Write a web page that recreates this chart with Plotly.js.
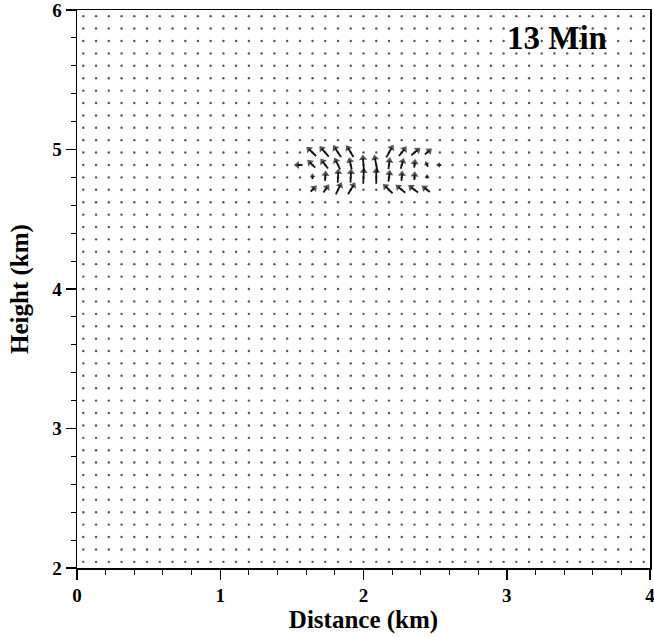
<!DOCTYPE html>
<html>
<head>
<meta charset="utf-8">
<script src="https://cdn.plot.ly/plotly-3.0.1.min.js"></script>
<style>html,body{margin:0;padding:0;background:#fff;}#chart{width:654px;height:638px;}</style>
</head>
<body>
<div id="chart"></div>
<script>
// Model grid (km)
const gridX = [0.044,0.133,0.222,0.311,0.400,0.489,0.578,0.667,0.756,0.844,0.933,1.022,1.111,1.200,1.289,1.378,1.467,1.556,1.644,1.733,1.822,1.911,2.000,2.089,2.178,2.267,2.356,2.444,2.533,2.622,2.711,2.800,2.889,2.978,3.067,3.156,3.244,3.333,3.422,3.511,3.600,3.689,3.778,3.867,3.956];
const gridY = [2.044,2.133,2.222,2.311,2.400,2.489,2.578,2.667,2.756,2.844,2.933,3.022,3.111,3.200,3.289,3.378,3.467,3.556,3.644,3.733,3.822,3.911,4.000,4.089,4.178,4.267,4.356,4.444,4.533,4.622,4.711,4.800,4.889,4.978,5.067,5.156,5.244,5.333,5.422,5.511,5.600,5.689,5.778,5.867,5.956];

// Region with non-zero wind (m/s)
const windX = [1.556,1.644,1.733,1.822,1.911,2.000,2.089,2.178,2.267,2.356,2.444,2.533];
const windY = [4.978,4.889,4.800,4.711];
const u_4978 = [0, -1.3, -1.3, -1.1, -1.0, 0, 0, 1.0, 1.0, 1.2, 0.8, 0];
const w_4978 = [0, 1.3, 1.5, 1.7, 1.7, 0.1, 0.1, 1.8, 1.3, 1.0, 0.7, 0];
const u_4889 = [-1.0, -1.0, -1.0, -0.8, -0.35, -0.2, -0.5, 0.2, 0.4, 0.1, -0.3, -0.5];
const w_4889 = [0, 1.0, 1.35, 1.65, 1.6, 2.6, 2.65, 1.6, 1.4, 1.0, 0.6, 0];
const u_4800 = [0.1, 0, 0.1, 0.1, 0.1, 0.1, 0, 0.2, 0.1, 0.05, 0, 0];
const w_4800 = [0.1, 0.6, 1.3, 2.0, 2.0, 2.4, 2.4, 1.6, 1.3, 1.0, 0.3, 0.1];
const u_4711 = [0, 0.7, 0.7, 0.8, 1.0, 0, 0, -1.3, -1.3, -1.3, -1.0, 0];
const w_4711 = [0, 0.7, 1.0, 1.7, 1.7, 0.2, 0.2, 1.3, 1.1, 1.0, 0.8, 0];
const U = [u_4978, u_4889, u_4800, u_4711];
const W = [w_4978, w_4889, w_4800, w_4711];

const xTicks = [0,1,2,3,4];
const yTicks = [2,3,4,5,6];
const timeLabel = '13 Min';
const SCALE = 0.038; // km of arrow per m/s

// dots at every grid point
const dx = [], dy = [];
gridY.forEach(y => gridX.forEach(x => { dx.push(x); dy.push(y); }));

const dots = {
  type: 'scatter', mode: 'markers', x: dx, y: dy,
  marker: {size: 2.4, color: '#555'}, hoverinfo: 'skip', showlegend: false
};

// wind arrows centred on grid points: shafts + heads
const sx = [], sy = [], hx = [], hy = [], hang = [], hsize = [];
windY.forEach((y, j) => {
  windX.forEach((x, i) => {
    const u = U[j][i], w = W[j][i];
    const mag = Math.hypot(u, w);
    if (mag < 0.25) return;
    sx.push(x - u * SCALE / 2, x + u * SCALE / 2, null);
    sy.push(y - w * SCALE / 2, y + w * SCALE / 2, null);
    hx.push(x + u * SCALE / 2);
    hy.push(y + w * SCALE / 2);
    hang.push(Math.atan2(u, w) * 180 / Math.PI);
    hsize.push(mag < 0.8 ? 5 : 7);
  });
});

const shafts = {
  type: 'scatter', mode: 'lines', x: sx, y: sy,
  line: {color: '#111', width: 1.8},
  hoverinfo: 'skip', showlegend: false, connectgaps: false
};
const heads = {
  type: 'scatter', mode: 'markers', x: hx, y: hy,
  marker: {symbol: 'triangle-up', angle: hang, size: hsize, color: '#111', line: {width: 0}},
  hoverinfo: 'skip', showlegend: false
};

const tickFont = {family: 'Liberation Serif', size: 19, color: '#000', weight: 'bold'};
const titleFont = {family: 'Liberation Serif', size: 25, color: '#000', weight: 'bold'};

const layout = {
  width: 654, height: 638,
  margin: {l: 77, r: 4, t: 10, b: 70},
  paper_bgcolor: '#fff', plot_bgcolor: '#fff',
  showlegend: false,
  xaxis: {
    range: [0, 4], tickvals: xTicks, ticks: 'outside', ticklen: 10, tickwidth: 1.5, tickcolor: '#000',
    minor: {dtick: 0.2, ticks: 'outside', ticklen: 5, tickwidth: 1, tickcolor: '#000', showgrid: false},
    showline: true, linecolor: '#000', linewidth: 1.5, mirror: true,
    showgrid: false, zeroline: false, tickfont: tickFont, ticklabeloverflow: 'allow',
    title: {text: 'Distance (km)', font: titleFont, standoff: 0}
  },
  yaxis: {
    range: [2, 6], tickvals: yTicks, ticks: 'outside', ticklen: 10, tickwidth: 1.5, tickcolor: '#000',
    minor: {dtick: 0.2, ticks: 'outside', ticklen: 5, tickwidth: 1, tickcolor: '#000', showgrid: false},
    showline: true, linecolor: '#000', linewidth: 1.5, mirror: true,
    showgrid: false, zeroline: false, tickfont: tickFont, ticklabeloverflow: 'allow',
    title: {text: 'Height (km)', font: titleFont, standoff: 16}
  },
  annotations: [{
    xref: 'x', yref: 'y', x: 3.35, y: 5.80, text: timeLabel, showarrow: false,
    font: {family: 'Liberation Serif', size: 33, color: '#000', weight: 'bold'}
  }]
};

Plotly.newPlot('chart', [dots, shafts, heads], layout, {staticPlot: true, displayModeBar: false});
</script>
</body>
</html>
